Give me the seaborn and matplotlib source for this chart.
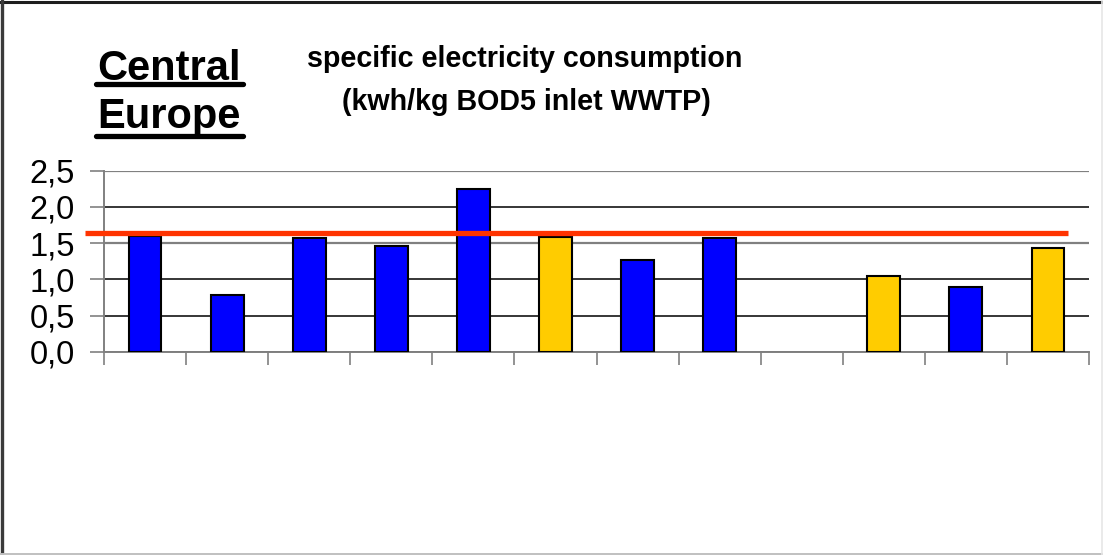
import numpy as np
import pandas as pd
import matplotlib
matplotlib.use("Agg")
import matplotlib.pyplot as plt
from matplotlib.lines import Line2D
import seaborn as sns

# Specific electricity consumption per plant (kWh/kg BOD5 inlet WWTP)
plants = ["P01", "P02", "P03", "P04", "P05", "P06",
          "P07", "P08", "P09", "P10", "P11", "P12"]
consumption = [1.60, 0.79, 1.57, 1.46, 2.25, 1.59,
               1.27, 1.57, np.nan, 1.05, 0.89, 1.43]
plant_group = ["A", "A", "A", "A", "A", "B",
               "A", "A", "A", "B", "A", "B"]
average_value = 1.635
y_ticks = [0.0, 0.5, 1.0, 1.5, 2.0, 2.5]
y_tick_labels = ["0,0", "0,5", "1,0", "1,5", "2,0", "2,5"]

df = pd.DataFrame({"plant": plants, "kwh": consumption, "group": plant_group})

sns.set_theme(style="white")
plt.rcParams["font.family"] = ["Liberation Sans", "DejaVu Sans"]
plt.rcParams["text.color"] = "black"
plt.rcParams["axes.labelcolor"] = "black"
plt.rcParams["ytick.color"] = "black"

fig = plt.figure(figsize=(11.03, 5.55), dpi=100)
ax = fig.add_axes([0.0943, 0.3658, 0.8930, 0.3266])

sns.barplot(data=df, x="plant", y="kwh", hue="group", order=plants,
            palette={"A": "#0000FF", "B": "#FFCC00"}, dodge=False,
            width=0.4, edgecolor="black", linewidth=1.5, legend=False,
            saturation=1, ax=ax, zorder=3)

ax.set_xlim(-0.5, len(plants) - 0.5)
ax.set_ylim(0, 2.5)
ax.set_yticks(y_ticks)
ax.set_yticklabels(y_tick_labels, fontsize=23.5)
ax.set_xticks(np.arange(len(plants) + 1) - 0.5)
ax.set_xticklabels([])
ax.set_xlabel("")
ax.set_ylabel("")

ax.tick_params(axis="y", which="both", left=True, length=10, width=1.2,
               color="#808080", pad=11, labelcolor="black")
ax.tick_params(axis="x", which="both", bottom=True, length=9, width=1.2,
               color="#808080")

ax.yaxis.grid(True, color="black", linewidth=1.1, zorder=0)
ax.set_axisbelow(True)
for i, gl in enumerate(ax.get_ygridlines()):
    if i in (3, 5):
        gl.set_color("#808080")
        gl.set_linewidth(1.6)

for side in ("top", "right"):
    ax.spines[side].set_visible(False)
for side in ("left", "bottom"):
    ax.spines[side].set_visible(True)
    ax.spines[side].set_color("#808080")
    ax.spines[side].set_linewidth(1.4)

# Average line extending slightly past the value axis
ax.plot([-0.019, 0.979], [average_value, average_value], color="#FF3300",
        linewidth=3.8, transform=ax.get_yaxis_transform(), clip_on=False,
        zorder=5, solid_capstyle="butt")

# Headings
fig.text(97 / 1103, 1 - 80 / 555, "Central", fontsize=30, fontweight="bold",
         ha="left", va="baseline")
fig.text(97 / 1103, 1 - 128 / 555, "Europe", fontsize=30, fontweight="bold",
         ha="left", va="baseline")
for y in (84, 135.5):
    fig.add_artist(Line2D([96 / 1103, 243 / 1103], [1 - y / 555, 1 - y / 555],
                          color="black", linewidth=3.8,
                          transform=fig.transFigure))

fig.text(525 / 1103, 1 - 67 / 555, "specific electricity consumption",
         fontsize=20.6, fontweight="bold", ha="center", va="baseline")
fig.text(526 / 1103, 1 - 110 / 555, "(kwh/kg BOD5 inlet WWTP)",
         fontsize=20.6, fontweight="bold", ha="center", va="baseline")

# Frame around the chart area: dark top/left, light bottom/right
def frame_line(xs, ys, color, lw):
    fig.add_artist(Line2D([x / 1103 for x in xs], [1 - y / 555 for y in ys],
                          color=color, linewidth=lw,
                          transform=fig.transFigure))

frame_line([0, 1103], [1.5, 1.5], "#1e1e1e", 2.2)
frame_line([1.5, 1.5], [0, 555], "#3a3a3a", 2.4)
frame_line([0, 1103], [553.5, 553.5], "#c0c0c0", 1.4)
frame_line([1102, 1102], [0, 555], "#e6e6e6", 1.2)

fig.savefig("out.png", dpi=100)
